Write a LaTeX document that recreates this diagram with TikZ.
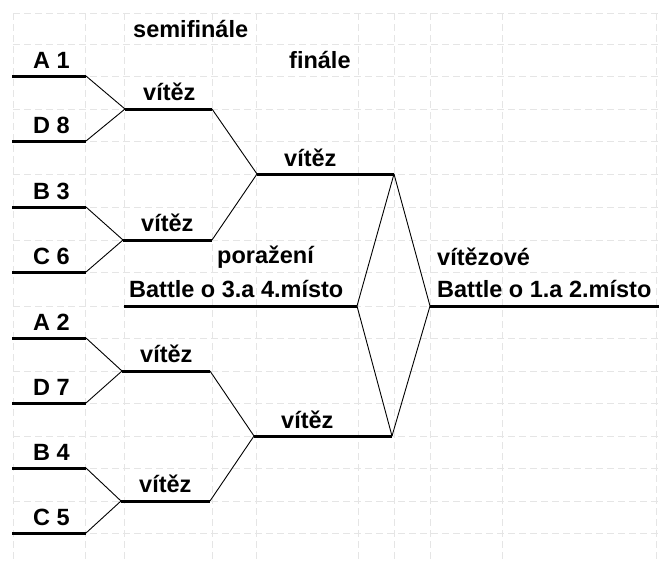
\documentclass[tikz,border=0pt]{standalone}
\usepackage{fontspec}
\setmainfont{Liberation Sans}
\tikzstyle{slot} = [draw, line width=3pt]
\tikzstyle{edge} = [draw, line width=0.9pt]
\tikzstyle{cell} = [draw, black!10, line width=0.6pt, dash pattern=on 7pt off 4pt]
\tikzstyle{label} = [font=\bfseries\fontsize{23.5}{27}\selectfont, anchor=base west,
    inner sep=0pt]

\begin{document}
\begin{tikzpicture}[x=1pt, y=-1pt]
  \useasboundingbox (0,0) rectangle (659,562);

  % spreadsheet grid
  \foreach \y in {13, 44, 76, 109, 141, 174, 207, 240, 272, 306, 338, 371, 403,
                  436, 468, 501, 533}
        \path[cell] (13,\y) -- (659,\y);
  \foreach \x in {13, 85, 124, 212, 256, 358, 394, 430, 502, 656}
        \path[cell] (\x,13) -- (\x,562);

  % players
  \foreach \name/\txt/\y in {A1/A 1/76, D8/D 8/141, B3/B 3/207, C6/C 6/272,
                             A2/A 2/338, D7/D 7/403, B4/B 4/468, C5/C 5/533} {
        \coordinate (\name l) at (12,\y);
        \coordinate (\name r) at (86,\y);
        \path[slot] (\name l) -- (\name r);
        \node[label] (t\name) at (33,\y-8) {\txt};
  }

  % semifinal winners
  \foreach \name/\xa/\xb/\y in {s1/125/212/109, s2/123/212/240, s3/122/210/371,
                                s4/121/210/501} {
        \coordinate (\name l) at (\xa,\y);
        \coordinate (\name r) at (\xb,\y);
        \path[slot] (\name l) -- (\name r);
        \node[label] (t\name) at (\xa+18,\y-9) {vítěz};
  }
  \foreach \a/\b in {A1/s1, D8/s1, B3/s2, C6/s2, A2/s3, D7/s3, B4/s4, C5/s4}
        \path[edge] (\a r) -- (\b l);

  % final winners
  \foreach \name/\xa/\xb/\y in {f1/257/394/174, f2/254/392/436} {
        \coordinate (\name l) at (\xa,\y);
        \coordinate (\name r) at (\xb,\y);
        \path[slot] (\name l) -- (\name r);
        \node[label] (t\name) at (\xa+27,\y-8) {vítěz};
  }
  \foreach \a/\b in {s1/f1, s2/f1, s3/f2, s4/f2}
        \path[edge] (\a r) -- (\b l);

  % battles
  \coordinate (b3l) at (124,306);
  \coordinate (b3r) at (357,306);
  \coordinate (b1l) at (430,306);
  \coordinate (b1r) at (659,306);
  \path[slot] (b3l) -- (b3r);
  \path[slot] (b1l) -- (b1r);
  \foreach \f in {f1, f2}
      \foreach \b in {b3r, b1l}
          \path[edge] (\f r) -- (\b);

  \node[label] (semi) at (133,37) {semifinále};
  \node[label] (fin) at (289,68) {finále};
  \node[label] (lost) at (217,263) {poražení};
  \node[label] (b3t) at (129,297) {Battle o 3.a 4.místo};
  \node[label] (won) at (437,265) {vítězové};
  \node[label] (b1t) at (437,297) {Battle o 1.a 2.místo};

\end{tikzpicture}
\end{document}
